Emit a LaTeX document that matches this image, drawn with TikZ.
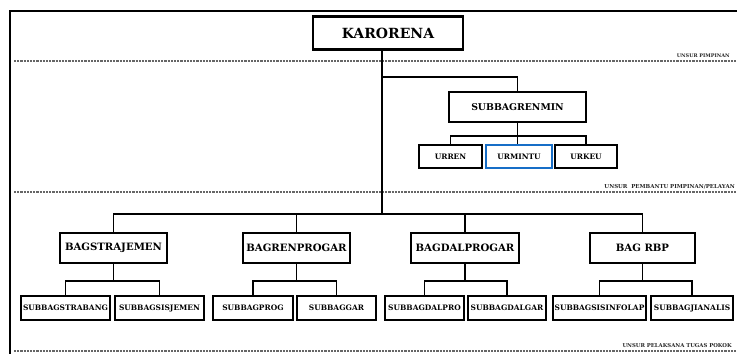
\documentclass[tikz,border=0pt]{standalone}
\usepackage{fontspec}
\setmainfont{DejaVu Serif}
\usepackage{xcolor}
\usepackage{tikz}
\usetikzlibrary{shadows,calc}

\definecolor{umblue}{rgb}{0.09,0.43,0.78}

\tikzset{
  unitbox/.style={draw=black, line width=1.4pt, fill=white, inner sep=0pt, align=center,
    font=\bfseries, drop shadow={shadow xshift=0.7pt, shadow yshift=-0.7pt, opacity=0.3}},
  conn/.style={draw=black, line width=1.4pt},
  sepline/.style={draw=black!60, line width=0.9pt, dash pattern=on 1.6pt off 0.8pt},
  seplabel/.style={anchor=south east, inner sep=0.75pt, font=\bfseries, text=black!85}
}

\begin{document}
\begin{tikzpicture}[x=0.75pt,y=0.75pt,yscale=-1,xscale=1]
\useasboundingbox (0,0) rectangle (737,354);

%Frame
\draw [line width=2.2pt] (737,11) -- (10,11) -- (10,354) ;

%Dashed separators
\draw [sepline] (14,61) -- (737,61) ;
\draw [sepline] (14,192) -- (737,192) ;
\draw [sepline] (14,351) -- (737,351) ;

% Text Node
\draw (731,59) node [seplabel] {\fontsize{3.7}{4}\selectfont UNSUR PIMPINAN};
% Text Node
\draw (736,190) node [seplabel] {\fontsize{4.1}{4.5}\selectfont UNSUR\ \ PEMBANTU PIMPINAN/PELAYAN};
% Text Node
\draw (733,349) node [seplabel] {\fontsize{4}{4.5}\selectfont UNSUR PELAKSANA TUGAS POKOK};

% Top
\node [unitbox, line width=1.6pt, minimum width=150*0.75pt, minimum height=33*0.75pt] (karorena) at (388,33) {\fontsize{10.5}{12}\selectfont KARORENA};
\coordinate (spine) at (382,214);
\coordinate (jct) at (382,77);

% Pembantu pimpinan
\node [unitbox, minimum width=137*0.75pt, minimum height=30*0.75pt] (subbagrenmin) at (517.5,107) {\fontsize{7}{8}\selectfont SUBBAGRENMIN};
\node [unitbox, minimum width=63*0.75pt, minimum height=23*0.75pt] (urren) at (450.5,156.5) {\fontsize{5.6}{6}\selectfont URREN};
\node [unitbox, draw=umblue, line width=1.9pt, minimum width=66*0.75pt, minimum height=23*0.75pt] (urmintu) at (519,156.5) {\fontsize{5.6}{6}\selectfont URMINTU};
\node [unitbox, minimum width=62*0.75pt, minimum height=23*0.75pt] (urkeu) at (586,156.5) {\fontsize{5.6}{6}\selectfont URKEU};
\coordinate (renminbus) at (518,136);

% Pelaksana tugas pokok
\node [unitbox, minimum width=107*0.75pt, minimum height=30*0.75pt] (bagstrajemen) at (113.5,248) {\fontsize{7.6}{8}\selectfont BAGSTRAJEMEN};
\node [unitbox, minimum width=107*0.75pt, minimum height=30*0.75pt] (bagrenprogar) at (296.5,248) {\fontsize{7.6}{8}\selectfont BAGRENPROGAR};
\node [unitbox, minimum width=108*0.75pt, minimum height=30*0.75pt] (bagdalprogar) at (465,248) {\fontsize{7.6}{8}\selectfont BAGDALPROGAR};
\node [unitbox, minimum width=105*0.75pt, minimum height=30*0.75pt] (bagrbp) at (642.5,248) {\fontsize{7.6}{8}\selectfont BAG RBP};

\node [unitbox, minimum width=89*0.75pt, minimum height=24*0.75pt] (subbagstrabang) at (65.5,308) {\fontsize{5.6}{6}\selectfont SUBBAGSTRABANG};
\node [unitbox, minimum width=89*0.75pt, minimum height=24*0.75pt] (subbagsisjemen) at (159.5,308) {\fontsize{5.6}{6}\selectfont SUBBAGSISJEMEN};
\node [unitbox, minimum width=80*0.75pt, minimum height=24*0.75pt] (subbagprog) at (253,308) {\fontsize{5.6}{6}\selectfont SUBBAGPROG};
\node [unitbox, minimum width=79*0.75pt, minimum height=24*0.75pt] (subbaggar) at (336.5,308) {\fontsize{5.6}{6}\selectfont SUBBAGGAR};
\node [unitbox, minimum width=79*0.75pt, minimum height=24*0.75pt] (subbagdalpro) at (424.5,308) {\fontsize{5.6}{6}\selectfont SUBBAGDALPRO};
\node [unitbox, minimum width=78*0.75pt, minimum height=24*0.75pt] (subbagdalgar) at (507,308) {\fontsize{5.6}{6}\selectfont SUBBAGDALGAR};
\node [unitbox, minimum width=93*0.75pt, minimum height=24*0.75pt] (subbagsisinfolap) at (599.5,308) {\fontsize{5.6}{6}\selectfont SUBBAGSISINFOLAP};
\node [unitbox, minimum width=82*0.75pt, minimum height=24*0.75pt] (subbagjianalis) at (692,308) {\fontsize{5.6}{6}\selectfont SUBBAGJIANALIS};

%Straight Lines
\draw [conn] (karorena.south -| spine) -- (spine) ;
\draw [conn] (subbagrenmin.north) |- (jct) ;
\draw [conn] (urren.north) |- (renminbus) -| (urkeu.north) ;
\draw [conn] (subbagrenmin.south) -- (subbagrenmin.south |- urmintu.north) ;
\draw [conn] (bagstrajemen.north) |- (spine) -| (bagrbp.north) ;
\draw [conn] (bagrenprogar.north) -- (bagrenprogar.north |- spine) ;
\draw [conn] (bagdalprogar.north) -- (bagdalprogar.north |- spine) ;

\draw [conn] (subbagstrabang.north) |- ($(bagstrajemen.south)+(0,17)$) -| (subbagsisjemen.north) ;
\draw [conn] (bagstrajemen.south) -- ++(0,17) ;
\draw [conn] (subbagprog.north) |- ($(bagrenprogar.south)+(0,17)$) -| (subbaggar.north) ;
\draw [conn] (bagrenprogar.south) -- ++(0,17) ;
\draw [conn] (subbagdalpro.north) |- ($(bagdalprogar.south)+(0,17)$) -| (subbagdalgar.north) ;
\draw [conn] (bagdalprogar.south) -- ++(0,17) ;
\draw [conn] (subbagsisinfolap.north) |- ($(bagrbp.south)+(0,17)$) -| (subbagjianalis.north) ;
\draw [conn] (bagrbp.south) -- ++(0,17) ;

\end{tikzpicture}
\end{document}
